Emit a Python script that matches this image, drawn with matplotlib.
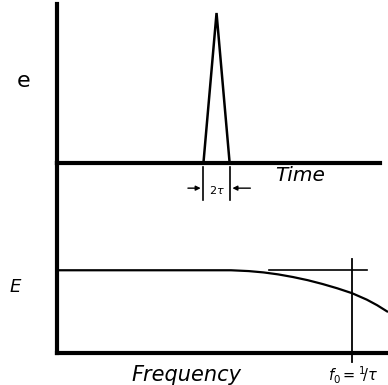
import numpy as np
import matplotlib
matplotlib.use("Agg")
import matplotlib.pyplot as plt

# pulse in time, tau = 1
pulse_t = [-1.0, 0.0, 1.0]
pulse_e = [0.0, 1.0, 0.0]

# spectrum read as E(f), f in units of f0 = 1/tau
freq = [0.0, 0.59, 0.65, 0.70, 0.75, 0.80, 0.85, 0.90, 0.95, 1.00, 1.05, 1.085, 1.12]
spec = [1.0, 1.0, 0.990, 0.974, 0.950, 0.918, 0.880, 0.834, 0.782, 0.723, 0.645, 0.578, 0.50]
f0 = 1.0
ref_level = 1.0

W, H = 388, 385
fig = plt.figure(figsize=(W / 100, H / 100), dpi=100)

def fx(px):
    return px / W

def fy(py):
    return 1 - py / H

ax1 = fig.add_axes([fx(57), fy(162.7), fx(380) - fx(57), fy(4) - fy(162.7)])
ax2 = fig.add_axes([fx(57), fy(353), 1 - fx(57), fy(162.7) - fy(353)])

for ax in (ax1, ax2):
    for s in ("top", "right"):
        ax.spines[s].set_visible(False)
    for s in ("left", "bottom"):
        ax.spines[s].set_linewidth(3.0)
        ax.spines[s].set_capstyle("projecting")
    ax.set_xticks([])
    ax.set_yticks([])
    ax.patch.set_alpha(0)

# time domain
ax1.set_xlim(-12.2, 12.5)
ax1.set_ylim(0, 1.06)
ax1.plot(pulse_t, pulse_e, color="black", lw=1.8, solid_joinstyle="miter")

# 2 tau marker
for t in (-1, 1):
    ax1.plot([t, t], [-0.03, -0.25], color="black", lw=1.2, clip_on=False)
ax1.annotate("", xy=(-1, -0.17), xytext=(-2.4, -0.17),
             arrowprops=dict(arrowstyle="-|>", color="black", lw=1.0, mutation_scale=7),
             annotation_clip=False)
ax1.annotate("", xy=(1, -0.17), xytext=(2.8, -0.17),
             arrowprops=dict(arrowstyle="-|>", color="black", lw=1.0, mutation_scale=7),
             annotation_clip=False)
ax1.text(0, -0.18, r"2$\tau$", ha="center", va="center", fontsize=8, clip_on=False)

# frequency domain
ax2.set_xlim(0, 1.122)
ax2.set_ylim(0, 2.3)
ax2.plot(freq, spec, color="black", lw=1.6, solid_capstyle="round",
         solid_joinstyle="round")
ax2.plot([0.72, 1.05], [ref_level, ref_level], color="black", lw=1.2)
ax2.plot([f0, f0], [1.14, -0.11], color="black", lw=1.3, clip_on=False)

fig.text(fx(24), fy(81), "e", fontsize=16, ha="center", va="center")
fig.text(fx(15), fy(287), "E", fontsize=13, ha="center", va="center", style="italic")
fig.text(fx(300), fy(176), "Time", fontsize=14.5, ha="center", va="center", style="italic")
fig.text(fx(186), fy(375), "Frequency", fontsize=15, ha="center", va="center", style="italic")
fig.text(fx(353), fy(375), r"$f_0 = {}^1\!/\tau$", fontsize=10.5, ha="center", va="center")

fig.savefig("out.png", dpi=100)
